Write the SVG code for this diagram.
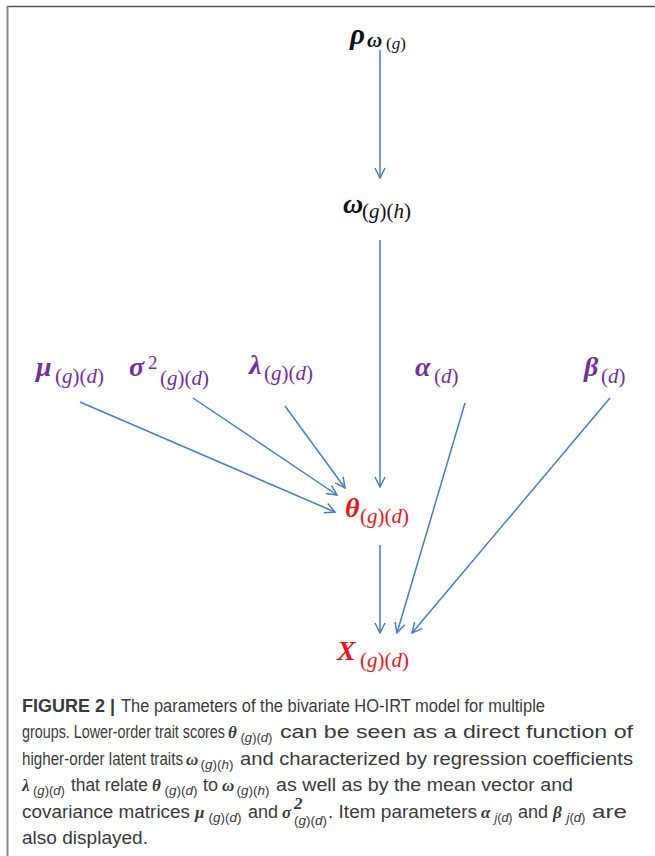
<svg xmlns="http://www.w3.org/2000/svg" width="655" height="856" viewBox="0 0 655 856">
<style>
.m{font-family:"Liberation Serif","DejaVu Serif",serif;font-weight:bold;font-style:italic}
.s{font-family:"Liberation Serif","DejaVu Serif",serif;font-weight:normal}
.s tspan.i{font-style:italic}
.blk{fill:#111}
.pur{fill:#7030a0}
.red{fill:#e8161b}
.cap{font-family:"Liberation Sans",Arial,sans-serif;font-size:17.5px;fill:#3a3a3a}
.cm{font-family:"Liberation Serif",serif;font-weight:bold;font-style:italic;font-size:17px;fill:#3a3a3a}
.cs{font-family:"Liberation Sans",Arial,sans-serif;font-size:13px;fill:#3a3a3a}
.cs tspan.i{font-style:italic}
.edge{stroke:#4a7ebb;stroke-width:1.5;fill:none;marker-end:url(#ah)}
</style>
<defs>
<marker id="ah" viewBox="0 0 12 12" refX="11" refY="6" markerWidth="12" markerHeight="12" markerUnits="userSpaceOnUse" orient="auto">
<path d="M1,1 L11,6 L1,11" fill="none" stroke="#4a7ebb" stroke-width="1.5"/>
</marker>
</defs>
<rect width="655" height="856" fill="#fff"/>
<line x1="7" y1="6.5" x2="655" y2="6.5" stroke="#555" stroke-width="1.5"/>
<line x1="7.5" y1="6" x2="7.5" y2="856" stroke="#888" stroke-width="2"/>

<g id="connectors">
<line class="edge" x1="380" y1="50" x2="380" y2="178"/>
<line class="edge" x1="380" y1="240" x2="380" y2="487"/>
<line class="edge" x1="80" y1="402" x2="335" y2="512"/>
<line class="edge" x1="193" y1="398" x2="337" y2="495"/>
<line class="edge" x1="285" y1="406" x2="345" y2="488"/>
<line class="edge" x1="380" y1="545" x2="380" y2="633"/>
<line class="edge" x1="465" y1="403" x2="397" y2="633"/>
<line class="edge" x1="610" y1="398" x2="412" y2="633"/>
</g>

<g id="rho">
<text class="m blk" x="350" y="44" font-size="29">ρ</text>
<text class="m blk" x="367" y="47" font-size="21">ω</text>
<text class="s blk" x="386" y="49" font-size="17">(<tspan class="i">g</tspan>)</text>
</g>
<g id="omega">
<text class="m blk" x="343" y="213" font-size="28">ω</text>
<text class="s blk" x="362" y="218" font-size="21">(<tspan class="i">g</tspan>)(<tspan class="i">h</tspan>)</text>
</g>
<g id="mu">
<text class="m pur" x="36" y="376" font-size="28">μ</text>
<text class="s pur" x="55" y="383" font-size="21">(<tspan class="i">g</tspan>)(<tspan class="i">d</tspan>)</text>
</g>
<g id="sigma2">
<text class="m pur" x="129" y="376" font-size="28">σ</text>
<text class="s pur" x="148" y="369" font-size="19">2</text>
<text class="s pur" x="160" y="385" font-size="21">(<tspan class="i">g</tspan>)(<tspan class="i">d</tspan>)</text>
</g>
<g id="lambda">
<text class="m pur" x="249" y="374" font-size="28">λ</text>
<text class="s pur" x="264" y="380" font-size="21">(<tspan class="i">g</tspan>)(<tspan class="i">d</tspan>)</text>
</g>
<g id="alpha">
<text class="m pur" x="415" y="376" font-size="28">α</text>
<text class="s pur" x="434" y="383" font-size="21">(<tspan class="i">d</tspan>)</text>
</g>
<g id="beta">
<text class="m pur" x="584" y="376" font-size="28">β</text>
<text class="s pur" x="601" y="383" font-size="21">(<tspan class="i">d</tspan>)</text>
</g>
<g id="theta">
<text class="m red" x="345" y="517" font-size="28">θ</text>
<text class="s red" x="360" y="523" font-size="21">(<tspan class="i">g</tspan>)(<tspan class="i">d</tspan>)</text>
</g>
<g id="X">
<text class="m red" x="337" y="660" font-size="28">X</text>
<text class="s red" x="360" y="667" font-size="21">(<tspan class="i">g</tspan>)(<tspan class="i">d</tspan>)</text>
</g>

<g id="caption">
<text class="cap" x="22" y="712" font-weight="bold" textLength="93" lengthAdjust="spacingAndGlyphs">FIGURE 2 |</text>
<text class="cap" x="121" y="712" textLength="424" lengthAdjust="spacingAndGlyphs">The parameters of the bivariate HO-IRT model for multiple</text>

<text class="cap" x="22" y="738" textLength="203" lengthAdjust="spacingAndGlyphs">groups. Lower-order trait scores</text>
<text class="cm" x="228" y="738">θ</text>
<text class="cs" x="240.5" y="742" textLength="32" lengthAdjust="spacingAndGlyphs">(<tspan class="i">g</tspan>)(<tspan class="i">d</tspan>)</text>
<text class="cap" x="280" y="738" textLength="353" lengthAdjust="spacingAndGlyphs">can be seen as a direct function of</text>

<text class="cap" x="22" y="765" textLength="161" lengthAdjust="spacingAndGlyphs">higher-order latent traits</text>
<text class="cm" x="186" y="765">ω</text>
<text class="cs" x="200.5" y="769" textLength="33" lengthAdjust="spacingAndGlyphs">(<tspan class="i">g</tspan>)(<tspan class="i">h</tspan>)</text>
<text class="cap" x="240" y="765" textLength="393" lengthAdjust="spacingAndGlyphs">and characterized by regression coefficients</text>

<text class="cm" x="22" y="791">λ</text>
<text class="cs" x="33" y="795" textLength="32" lengthAdjust="spacingAndGlyphs">(<tspan class="i">g</tspan>)(<tspan class="i">d</tspan>)</text>
<text class="cap" x="71" y="791" textLength="77" lengthAdjust="spacingAndGlyphs">that relate</text>
<text class="cm" x="152" y="791">θ</text>
<text class="cs" x="164.5" y="795" textLength="33" lengthAdjust="spacingAndGlyphs">(<tspan class="i">g</tspan>)(<tspan class="i">d</tspan>)</text>
<text class="cap" x="203" y="791" textLength="15" lengthAdjust="spacingAndGlyphs">to</text>
<text class="cm" x="222" y="791">ω</text>
<text class="cs" x="236.5" y="795" textLength="33" lengthAdjust="spacingAndGlyphs">(<tspan class="i">g</tspan>)(<tspan class="i">h</tspan>)</text>
<text class="cap" x="276" y="791" textLength="297" lengthAdjust="spacingAndGlyphs">as well as by the mean vector and</text>

<text class="cap" x="22" y="818" textLength="168" lengthAdjust="spacingAndGlyphs">covariance matrices</text>
<text class="cm" x="195" y="818">μ</text>
<text class="cs" x="208.5" y="822" textLength="33" lengthAdjust="spacingAndGlyphs">(<tspan class="i">g</tspan>)(<tspan class="i">d</tspan>)</text>
<text class="cap" x="248" y="818" textLength="30" lengthAdjust="spacingAndGlyphs">and</text>
<text class="cm" x="282" y="818">σ</text>
<text class="cm" x="294" y="809" font-size="12" font-style="normal">2</text>
<text class="cs" x="294" y="825" textLength="33" lengthAdjust="spacingAndGlyphs">(<tspan class="i">g</tspan>)(<tspan class="i">d</tspan>)</text>
<text class="cap" x="328" y="818" textLength="149" lengthAdjust="spacingAndGlyphs">. Item parameters</text>
<text class="cm" x="481" y="818">α</text>
<text class="cs" x="494.5" y="822" textLength="18" lengthAdjust="spacingAndGlyphs"><tspan class="i">j</tspan>(<tspan class="i">d</tspan>)</text>
<text class="cap" x="518" y="818" textLength="30" lengthAdjust="spacingAndGlyphs">and</text>
<text class="cm" x="553" y="818">β</text>
<text class="cs" x="566.5" y="822" textLength="19" lengthAdjust="spacingAndGlyphs"><tspan class="i">j</tspan>(<tspan class="i">d</tspan>)</text>
<text class="cap" x="592" y="818" textLength="35" lengthAdjust="spacingAndGlyphs">are</text>

<text class="cap" x="22" y="844" textLength="126" lengthAdjust="spacingAndGlyphs">also displayed.</text>
</g>
</svg>
